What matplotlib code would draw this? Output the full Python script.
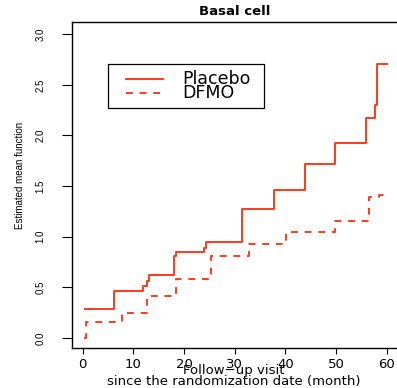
import matplotlib.pyplot as plt
from matplotlib.patches import Rectangle
from matplotlib.lines import Line2D

# step functions
placebo_t = [0.5, 6.3, 11.9, 12.7, 13.1, 18.0, 18.5, 24.0, 24.4, 31.5, 37.7, 43.8, 49.7, 55.8, 57.6, 58.0, 60.0]
placebo_y = [0.29, 0.46, 0.51, 0.56, 0.62, 0.81, 0.85, 0.89, 0.95, 1.27, 1.46, 1.72, 1.93, 2.17, 2.30, 2.71, 2.71]

dfmo_t = [0.3, 0.6, 7.8, 12.7, 18.5, 25.4, 32.9, 40.2, 49.7, 56.4, 58.5, 60.0]
dfmo_y = [0.0, 0.16, 0.25, 0.41, 0.58, 0.81, 0.93, 1.05, 1.16, 1.39, 1.41, 1.41]

groups = ['Placebo', 'DFMO']
xticks = [0, 10, 20, 30, 40, 50, 60]
yticks = [0.0, 0.5, 1.0, 1.5, 2.0, 2.5, 3.0]

red = '#ff3a1a'
dash = (0, (3.5, 3.5))

fig = plt.figure(figsize=(3.97, 3.88), dpi=100)
ax = fig.add_axes([0.181, 0.103, 0.818, 0.840])

ax.step(placebo_t, placebo_y, where='post', color=red, lw=1.4)
ax.step(dfmo_t, dfmo_y, where='post', color=red, lw=1.4, ls=dash)

ax.set_xlim(-2.1, 61.9)
ax.set_ylim(-0.1, 3.12)
ax.set_xticks(xticks)
ax.set_yticks(yticks)
ax.set_xticklabels([str(v) for v in xticks], fontsize=9.5)
ax.set_yticklabels(['%.1f' % v for v in yticks], rotation=90, va='center',
                   fontsize=7, family='Liberation Sans')
ax.tick_params(axis='y', length=7, width=0.8, pad=12)
ax.tick_params(axis='x', length=4, width=0.8, pad=3)
ax.spines['right'].set_visible(False)
for s in ['left', 'top', 'bottom']:
    ax.spines[s].set_linewidth(1.0)

ax.set_title('Basal cell', fontsize=9.5, fontweight='bold', pad=5)
ax.set_ylabel('Estimated mean function', fontsize=7, family='Liberation Sans')
ax.yaxis.set_label_coords(-0.145, 0.53)

# two-line x label, first line sits close to the tick labels
fig.text(0.59, 0.046, 'Follow\u2212up visit', ha='center', va='center', fontsize=9.5)
fig.text(0.59, 0.016, 'since the randomization date (month)', ha='center', va='center', fontsize=9.5)

# legend box drawn by hand to match the R layout
ax.add_patch(Rectangle((0.110, 0.737), 0.481, 0.133, transform=ax.transAxes,
                       fill=False, edgecolor='black', lw=0.9))
styles = ['-', dash]
ys = [0.825, 0.781]
for name, st, yy in zip(groups, styles, ys):
    ax.add_line(Line2D([0.166, 0.280], [yy, yy], transform=ax.transAxes,
                       color=red, lw=1.4, ls=st))
    ax.text(0.341, yy, name, transform=ax.transAxes, va='center', ha='left', fontsize=12.5)

fig.savefig('out.png', dpi=100)
